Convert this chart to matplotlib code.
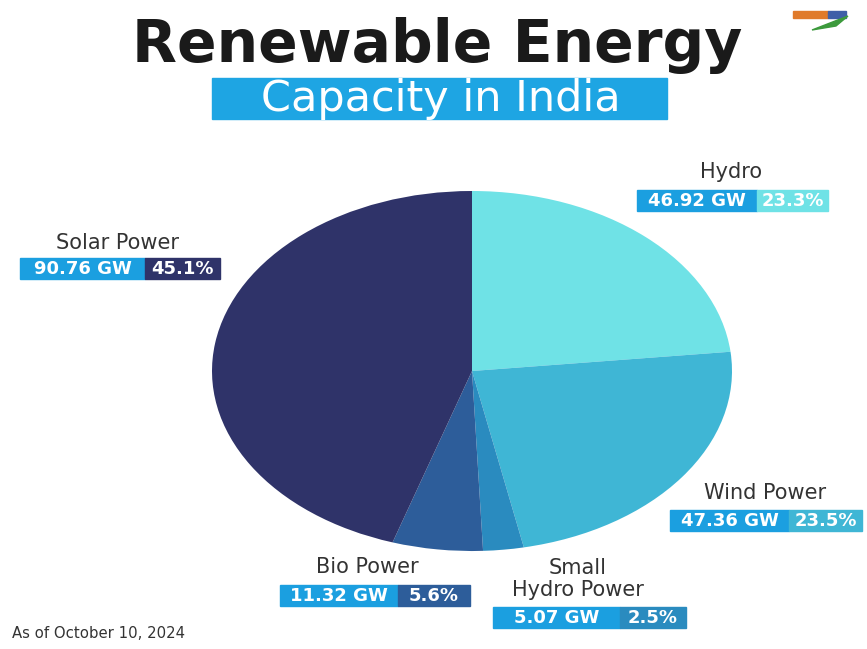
import matplotlib
matplotlib.use("Agg")
import matplotlib.pyplot as plt
from matplotlib.patches import Rectangle, Polygon

# data, clockwise from the top
sources = ["Hydro", "Wind Power", "Small\nHydro Power", "Bio Power", "Solar Power"]
capacity_gw = [46.92, 47.36, 5.07, 11.32, 90.76]
share_pct = [23.3, 23.5, 2.5, 5.6, 45.1]
slice_colors = ["#6fe2e6", "#3fb6d5", "#2a8bbf", "#2d5d9a", "#2f3369"]

gw_blue = "#1b9fe0"
W, H = 867, 649

fig = plt.figure(figsize=(W / 100, H / 100), dpi=100)
fig.patch.set_facecolor("white")

# pie is stretched sideways in the original, so let the axes box shape it
ax = fig.add_axes([212 / W, 1 - 551 / H, 520 / W, 360 / H])
ax.pie(capacity_gw, colors=slice_colors, startangle=90, counterclock=False,
       wedgeprops=dict(linewidth=0))
ax.set_aspect("auto")
ax.set_xlim(-1, 1)
ax.set_ylim(-1, 1)
ax.axis("off")

# overlay in pixel coords for the text and label boxes
ov = fig.add_axes([0, 0, 1, 1])
ov.set_xlim(0, W)
ov.set_ylim(H, 0)
ov.axis("off")

ov.text(437, 46, "Renewable Energy", ha="center", va="center", fontsize=42,
        fontweight="bold", family="DejaVu Sans", color="#1a1a1a")
ov.add_patch(Rectangle((212, 78), 455, 41, color="#1ea5e3"))
ov.text(441, 99, "Capacity in India", ha="center", va="center", fontsize=31,
        family="DejaVu Sans", color="white")

# label layout: (text centre x, text y, box left, box top, split x, box right)
layout = [
    (731, 172, 637, 190, 757, 828),
    (765, 493, 670, 510, 789, 862),
    (578, 579, 493, 607, 620, 686),
    (367, 567, 280, 585, 398, 470),
    (117, 243, 20, 258, 145, 220),
]

for name, gw, pct, col, (tx, ty, x0, y0, xs, x1) in zip(
        sources, capacity_gw, share_pct, slice_colors, layout):
    ov.text(tx, ty, name, ha="center", va="center", fontsize=15,
            family="DejaVu Sans", color="#333333", linespacing=1.15)
    bh = 21
    ov.add_patch(Rectangle((x0, y0), xs - x0, bh, color=gw_blue))
    ov.add_patch(Rectangle((xs, y0), x1 - xs, bh, color=col))
    ov.text((x0 + xs) / 2, y0 + bh / 2 + 0.5, f"{gw:.2f} GW", ha="center",
            va="center", fontsize=13, fontweight="bold", color="white")
    ov.text((xs + x1) / 2, y0 + bh / 2 + 0.5, f"{pct}%", ha="center",
            va="center", fontsize=13, fontweight="bold", color="white")

ov.text(12, 634, "As of October 10, 2024", ha="left", va="center",
        fontsize=10.7, color="#333333")

# small logo mark top right
ov.add_patch(Rectangle((793, 11), 35, 7, color="#e07a2a"))
ov.add_patch(Rectangle((828, 11), 18, 7, color="#3f5fa8"))
ov.add_patch(Polygon([(812, 30), (848, 16), (836, 26)], color="#3c9a3c"))

fig.savefig("out.png", dpi=100, facecolor="white")
